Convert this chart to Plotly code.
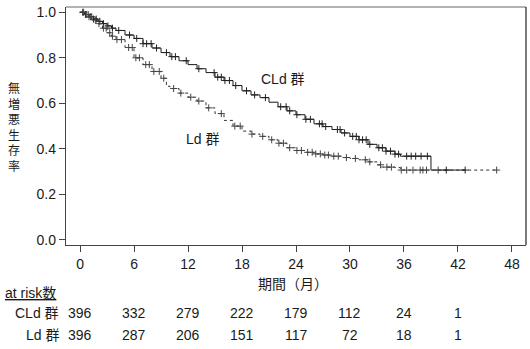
import numpy as np
import plotly.graph_objects as go

# ---- data ----
cld_t = [0, 0.5, 1.0, 1.5, 2.0, 2.5, 3.0, 3.5, 4.0, 5.0, 6.0, 7.0, 8.0, 9.0, 10.0, 11.0, 12.0,
         13.0, 14.0, 15.0, 16.0, 17.0, 18.0, 19.0, 20.0, 21.0, 22.0, 23.0, 24.0, 25.0, 26.0,
         27.0, 28.0, 29.0, 30.0, 31.0, 32.0, 33.0, 34.0, 35.0, 35.6, 39.0, 42.8]
cld_s = [1.0, 0.99, 0.98, 0.97, 0.96, 0.95, 0.94, 0.93, 0.92, 0.90, 0.885, 0.862, 0.843, 0.823,
         0.805, 0.787, 0.77, 0.752, 0.735, 0.715, 0.70, 0.678, 0.655, 0.637, 0.625, 0.605, 0.585,
         0.567, 0.55, 0.53, 0.51, 0.498, 0.485, 0.47, 0.455, 0.44, 0.42, 0.405, 0.39, 0.377,
         0.368, 0.307, 0.307]

ld_t = [0, 0.5, 1.0, 1.5, 2.0, 2.5, 3.0, 3.5, 4.0, 5.0, 6.0, 7.0, 8.0, 9.0, 9.6, 10.0, 11.0,
        12.0, 13.0, 14.0, 15.0, 16.0, 17.0, 18.0, 19.0, 20.0, 21.0, 22.0, 23.0, 24.0, 25.0,
        26.0, 27.0, 28.0, 29.0, 30.0, 31.0, 32.0, 33.0, 33.5, 35.0, 35.6, 46.3]
ld_s = [1.0, 0.99, 0.98, 0.965, 0.95, 0.93, 0.91, 0.895, 0.88, 0.845, 0.80, 0.77, 0.74, 0.71,
        0.675, 0.665, 0.645, 0.627, 0.61, 0.58, 0.555, 0.525, 0.50, 0.478, 0.465, 0.455, 0.44,
        0.425, 0.405, 0.393, 0.385, 0.378, 0.373, 0.368, 0.362, 0.358, 0.352, 0.343, 0.33, 0.32,
        0.318, 0.307, 0.307]

cld_censor = [0.3, 0.6, 0.9, 1.2, 1.5, 1.8, 2.2, 2.6, 3.1, 3.6, 4.3, 5.5, 6.3, 7.0, 7.4, 7.9,
              8.5, 9.6, 10.2, 10.6, 11.8, 13.2, 14.9, 15.3, 15.7, 16.1, 16.6, 17.3, 18.5, 19.4,
              20.6, 22.3, 22.9, 23.3, 24.1, 25.1, 25.6, 26.6, 26.9, 27.3, 28.6, 28.9, 29.4,
              30.3, 30.7, 31.0, 31.4, 31.8, 32.2, 33.2, 33.6, 34.0, 34.5, 35.0, 35.4, 36.3,
              36.8, 37.3, 37.9, 38.6, 40.7, 42.8]
ld_censor = [0.4, 0.7, 1.0, 1.3, 1.7, 2.1, 2.6, 2.9, 3.3, 3.6, 4.1, 4.6, 5.4, 5.8, 6.2, 6.6,
             7.3, 7.7, 8.2, 8.8, 9.3, 10.4, 11.2, 12.3, 13.2, 14.3, 15.7, 17.2, 17.8, 19.1,
             20.3, 21.3, 22.1, 22.6, 23.3, 24.1, 24.6, 25.3, 25.8, 26.2, 26.7, 27.2, 27.6,
             28.2, 28.7, 29.6, 30.6, 31.7, 32.2, 33.4, 34.1, 34.6, 35.7, 36.3, 37.0, 37.8,
             38.1, 38.5, 39.8, 46.3]

x_ticks = [0, 6, 12, 18, 24, 30, 36, 42, 48]
y_ticks = [0.0, 0.2, 0.4, 0.6, 0.8, 1.0]
risk_times = [0, 6, 12, 18, 24, 30, 36, 42]
cld_risk = [396, 332, 279, 222, 179, 112, 24, 1]
ld_risk = [396, 287, 206, 151, 117, 72, 18, 1]
groups = ["CLd 群", "Ld 群"]
y_title = "無増悪生存率"

def step_at(ts, ss, c):
    idx = np.searchsorted(np.array(ts), np.array(c), side="right") - 1
    return np.array(ss)[idx]

NUM_FONT = "Liberation Sans"
MIX_FONT = "Liberation Sans, Noto Sans CJK JP"
JP_FONT = "Noto Sans CJK JP"
INK = "#1a1a1a"

fig = go.Figure()
fig.add_trace(go.Scatter(x=cld_t, y=cld_s, mode="lines", line=dict(color=INK, width=1, shape="hv"),
                         hoverinfo="skip", showlegend=False))
fig.add_trace(go.Scatter(x=ld_t, y=ld_s, mode="lines",
                         line=dict(color="#333", width=1, shape="hv", dash="dot"),
                         hoverinfo="skip", showlegend=False))
fig.add_trace(go.Scatter(x=cld_censor, y=step_at(cld_t, cld_s, cld_censor), mode="markers",
                         marker=dict(symbol="cross-thin", size=5, line=dict(width=1, color="#222")),
                         showlegend=False))
fig.add_trace(go.Scatter(x=ld_censor, y=step_at(ld_t, ld_s, ld_censor), mode="markers",
                         marker=dict(symbol="cross-thin", size=5, line=dict(width=1, color="#444")),
                         showlegend=False))

fig.update_xaxes(range=[-1.56, 49.56], tickvals=x_ticks, ticks="outside", ticklen=6,
                 tickcolor="#444", showline=True, linecolor="#444", linewidth=1.3,
                 showgrid=False, zeroline=False, tickfont=dict(family=NUM_FONT, size=14, color=INK))
fig.update_yaxes(range=[-0.022, 1.023], tickvals=y_ticks, ticktext=[f"{v:.1f}" for v in y_ticks],
                 ticks="outside", ticklen=6, tickcolor="#444", showline=True, linecolor="#444",
                 linewidth=1.3, showgrid=False, zeroline=False,
                 tickfont=dict(family=NUM_FONT, size=14, color=INK))

# top & right frame
fig.add_shape(type="line", xref="paper", yref="paper", x0=0, x1=1, y0=1, y1=1,
              line=dict(color="#999", width=1.3))
fig.add_shape(type="line", xref="paper", yref="paper", x0=1, x1=1, y0=0, y1=1,
              line=dict(color="#333", width=1.3))

ann = []
def add(text, x, y, font, xanchor="center", xref="paper", size=14):
    ann.append(dict(text=text, x=x, y=y, xref=xref, yref="paper", showarrow=False,
                    xanchor=xanchor, yanchor="middle", font=dict(family=font, size=size, color=INK)))

# y title stacked, one char per line
add("<br>".join(list(y_title)), 14, 126, JP_FONT, size=12)
add("期間（月）", 293, 283, JP_FONT)
add("CLd 群", 283, 79, MIX_FONT)
add("Ld 群", 202, 139, MIX_FONT)
add("<u>at risk数</u>", 3, 293, MIX_FONT, xanchor="left")
for g, vals, ypix in [(groups[0], cld_risk, 313), (groups[1], ld_risk, 335)]:
    add(g, 61, ypix, MIX_FONT, xanchor="right")
    for t, v in zip(risk_times, vals):
        add(str(v), t, ypix, NUM_FONT, xref="x")

# convert pixel positions (from top-left) to paper coords
W, H = 530, 349
L, R, T, B = 66, 4, 7, 104
pw, ph = W - L - R, H - T - B
for a in ann:
    if a["xref"] == "paper":
        a["x"] = (a["x"] - L) / pw
    a["y"] = (H - B - a["y"]) / ph
fig.update_layout(annotations=ann)

fig.update_layout(width=W, height=H, margin=dict(l=L, r=R, t=T, b=B),
                  plot_bgcolor="white", paper_bgcolor="white",
                  font=dict(family=NUM_FONT, size=14, color=INK))

fig.write_html("out.html")
